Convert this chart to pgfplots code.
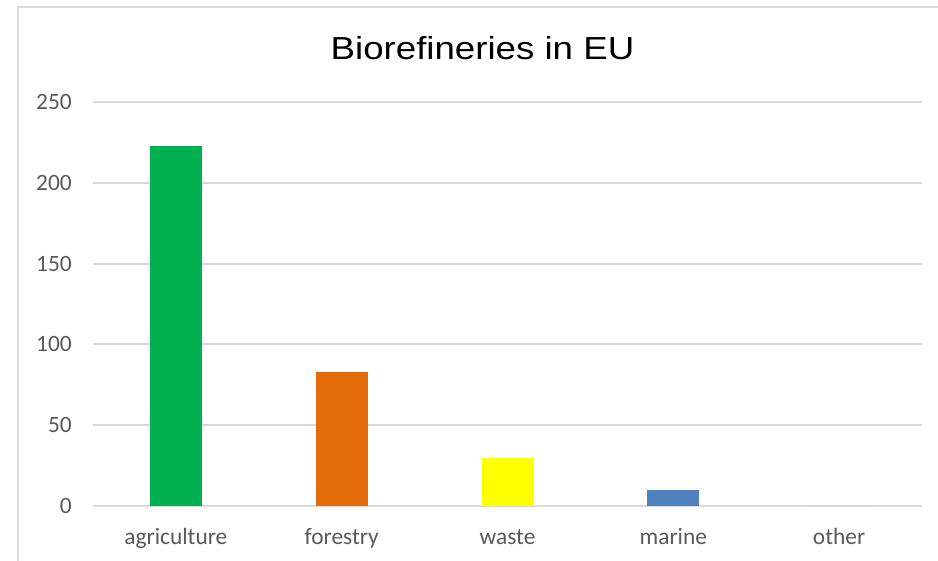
\documentclass[border=0pt]{standalone}
\usepackage{fontspec}
\setmainfont{Liberation Sans}
\newfontfamily\calfont{Carlito}
\usepackage{graphicx}
\usepackage{pgfplots}
\pgfplotsset{compat=1.18}

\definecolor{gridgray}{HTML}{D9D9D9}
\definecolor{labelgray}{HTML}{595959}
\definecolor{agri}{HTML}{00B050}
\definecolor{forest}{HTML}{E46C0A}
\definecolor{wasteyellow}{HTML}{FFFF00}
\definecolor{marineblue}{HTML}{4F81BD}
\definecolor{otherfill}{HTML}{A5A5A5}

\begin{document}
\begin{tikzpicture}
\path[use as bounding box] (0,0) rectangle (938bp,561bp);
% chart area border
\draw[gridgray, line width=2bp] (18bp,0) -- (18bp,554bp) -- (938bp,554bp);
% title
\node[font=\fontsize{32}{38}\selectfont, text=black] at (482.5bp,513bp)
  {\scalebox{1.15}[1]{Biorefineries in EU}};
\begin{axis}[
  at={(93bp,55bp)}, anchor=south west,
  scale only axis, width=829bp, height=404bp,
  xmin=-0.5, xmax=4.5, ymin=0, ymax=250,
  ytick={0,50,...,250},
  xtick={0,...,4},
  xticklabels={agriculture,forestry,waste,marine,other},
  ymajorgrids, grid style={gridgray, line width=2bp},
  axis line style={draw=none},
  major tick length=0pt,
  /pgf/number format/assume math mode=true,
  tick label style={font=\calfont\fontsize{23.5}{27}\selectfont, text=labelgray, inner sep=0pt},
  yticklabel style={anchor=east, xshift=-21bp},
  xticklabel style={anchor=base, yshift=-38bp},
  ybar, bar width=52bp, bar shift=0pt,
]
\addplot[fill=agri, draw=none] coordinates {(0,223)};
\addplot[fill=forest, draw=none] coordinates {(1,83)};
\addplot[fill=wasteyellow, draw=none] coordinates {(2,30)};
\addplot[fill=marineblue, draw=none] coordinates {(3,10)};
\addplot[fill=otherfill, draw=none] coordinates {(4,0)};
\end{axis}
\end{tikzpicture}
\end{document}
